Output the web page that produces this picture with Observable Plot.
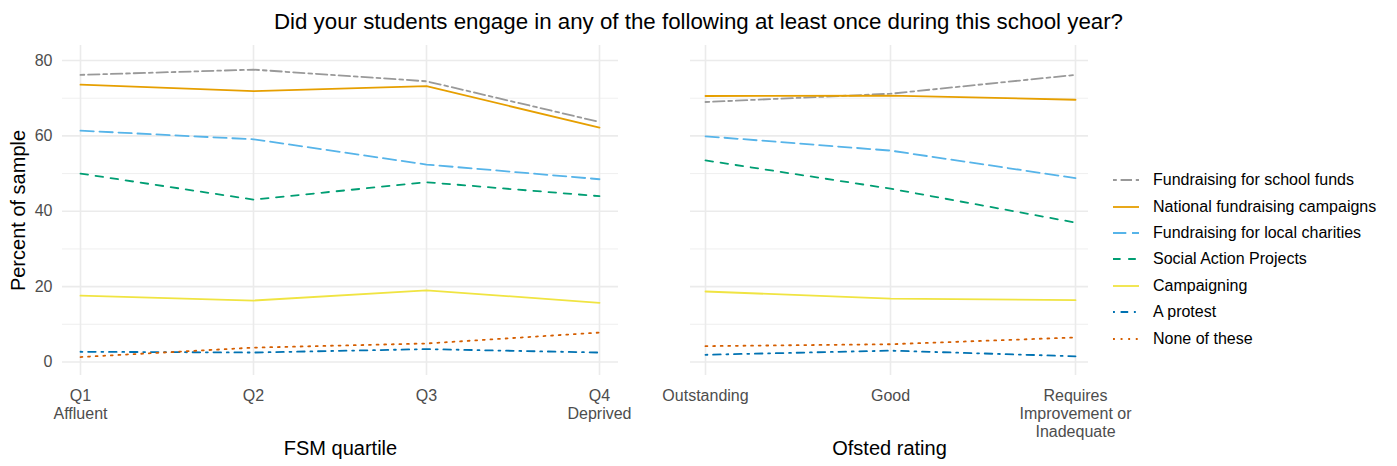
<!DOCTYPE html>
<html>
<head>
<meta charset="utf-8">
<script src="https://cdn.jsdelivr.net/npm/d3@7"></script>
<script src="https://cdn.jsdelivr.net/npm/@observablehq/plot@0.6"></script>
<style>
  body { margin: 0; background: #fff; font-family: "Liberation Sans", Arial, sans-serif; }
  #wrap { position: relative; width: 1397px; height: 466px; overflow: hidden; background: #fff; }
  #title { position: absolute; left: 0; top: 8px; width: 1397px; text-align: center; font-size: 22.3px; line-height: 28px; color: #000; }
  #left { position: absolute; left: 0; top: 0; }
  #right { position: absolute; left: 640px; top: 0; }
  #legend { position: absolute; left: 1113px; top: 167px; }
  .row { display: flex; align-items: center; height: 26.4px; font-size: 16px; color: #000; white-space: nowrap; }
  .row svg { margin-right: 14px; }
</style>
</head>
<body>
<div id="wrap">
  <div id="title">Did your students engage in any of the following at least once during this school year?</div>
  <div id="left"></div>
  <div id="right"></div>
  <div id="legend"></div>
</div>
<script>
// ---- Data ----
const seriesNames = [
  "Fundraising for school funds",
  "National fundraising campaigns",
  "Fundraising for local charities",
  "Social Action Projects",
  "Campaigning",
  "A protest",
  "None of these"
];
const seriesColors = ["#999999", "#E69F00", "#56B4E9", "#009E73", "#F0E442", "#0072B2", "#D55E00"];
const seriesDash = ["3.8,3.8,11.4,3.8", null, "13.3,5.7", "7.6,7.6", null, "1.9,5.7,7.6,5.7", "1.9,5.7"];

const fsmCategories = ["Q1", "Q2", "Q3", "Q4"];
const fsmTickLabels = ["Q1\nAffluent", "Q2", "Q3", "Q4\nDeprived"];
const ofstedCategories = ["Outstanding", "Good", "Requires Improvement or Inadequate"];
const ofstedTickLabels = ["Outstanding", "Good", "Requires\nImprovement or\nInadequate"];
const yTicks = [0, 20, 40, 60, 80];
const yMinorTicks = [10, 30, 50, 70];

// FSM quartile panel values (percent)
const fsmSchoolFunds   = [76.2, 77.6, 74.5, 63.7];
const fsmNational      = [73.6, 71.9, 73.2, 62.2];
const fsmLocal         = [61.4, 59.1, 52.4, 48.5];
const fsmSocialAction  = [50.0, 43.1, 47.7, 44.0];
const fsmCampaigning   = [17.6, 16.3, 19.0, 15.7];
const fsmProtest       = [2.7, 2.5, 3.4, 2.5];
const fsmNone          = [1.3, 3.8, 4.9, 7.8];

// Ofsted rating panel values (percent)
const ofsSchoolFunds   = [69.0, 71.2, 76.2];
const ofsNational      = [70.6, 70.7, 69.6];
const ofsLocal         = [59.9, 56.1, 48.8];
const ofsSocialAction  = [53.5, 46.0, 37.0];
const ofsCampaigning   = [18.7, 16.8, 16.4];
const ofsProtest       = [1.9, 3.0, 1.5];
const ofsNone          = [4.2, 4.7, 6.5];

const fsmValues = [fsmSchoolFunds, fsmNational, fsmLocal, fsmSocialAction, fsmCampaigning, fsmProtest, fsmNone];
const ofsValues = [ofsSchoolFunds, ofsNational, ofsLocal, ofsSocialAction, ofsCampaigning, ofsProtest, ofsNone];

const FONT = '"Liberation Sans", Arial, sans-serif';
const GRID = "#ebebeb";

function panel({categories, tickLabels, values, width, marginLeft, marginRight, xRange, showY, xTitle}) {
  const lineMarks = values.map((vals, i) =>
    Plot.line(categories.map((c, j) => ({x: c, y: vals[j]})), {
      x: "x", y: "y",
      stroke: seriesColors[i],
      strokeWidth: 1.8,
      strokeDasharray: seriesDash[i] || undefined
    })
  );
  const marks = [
    Plot.ruleY(yMinorTicks, {stroke: GRID, strokeWidth: 0.8}),
    Plot.ruleY(yTicks, {stroke: GRID, strokeWidth: 1.6}),
    Plot.ruleX(categories, {stroke: GRID, strokeWidth: 1.6}),
    Plot.axisX({
      tickSize: 0, tickPadding: 13, fontSize: 16, lineHeight: 1.125, fill: "#4d4d4d",
      tickFormat: d => tickLabels[categories.indexOf(d)], label: null
    }),
    ...lineMarks,
    Plot.text([xTitle], {text: d => d, frameAnchor: "bottom", dy: 73, lineAnchor: "middle", textAnchor: "middle", fontSize: 20, fill: "#000"})
  ];
  if (showY) {
    marks.push(Plot.axisY({ticks: yTicks, tickSize: 0, tickPadding: 10, fontSize: 16, fill: "#4d4d4d", label: null}));
    marks.push(Plot.text(["Percent of sample"], {text: d => d, frameAnchor: "left", dx: -44, rotate: -90, lineAnchor: "middle", textAnchor: "middle", fontSize: 20, fill: "#000"}));
  }
  return Plot.plot({
    width, height: 466,
    marginTop: 45, marginBottom: 91, marginLeft, marginRight,
    x: {type: "point", domain: categories, range: xRange, padding: 0},
    y: {domain: [-3.6, 84], axis: showY ? undefined : null},
    style: {fontFamily: FONT, background: "transparent", overflow: "visible"},
    marks
  });
}

document.getElementById("left").appendChild(panel({
  categories: fsmCategories, tickLabels: fsmTickLabels, values: fsmValues,
  width: 640, marginLeft: 62, marginRight: 22, xRange: [79, 600], showY: true, xTitle: "FSM quartile"
}));
document.getElementById("right").appendChild(panel({
  categories: ofstedCategories, tickLabels: ofstedTickLabels, values: ofsValues,
  width: 480, marginLeft: 50, marginRight: 32, xRange: [64, 435], showY: false, xTitle: "Ofsted rating"
}));

// Legend
const legend = document.getElementById("legend");
seriesNames.forEach((name, i) => {
  const row = document.createElement("div");
  row.className = "row";
  const ns = "http://www.w3.org/2000/svg";
  const svg = document.createElementNS(ns, "svg");
  svg.setAttribute("width", 26); svg.setAttribute("height", 10);
  const ln = document.createElementNS(ns, "line");
  ln.setAttribute("x1", 0); ln.setAttribute("x2", 26); ln.setAttribute("y1", 5); ln.setAttribute("y2", 5);
  ln.setAttribute("stroke", seriesColors[i]); ln.setAttribute("stroke-width", 1.8);
  if (seriesDash[i]) ln.setAttribute("stroke-dasharray", seriesDash[i]);
  svg.appendChild(ln);
  row.appendChild(svg);
  const span = document.createElement("span");
  span.textContent = name;
  row.appendChild(span);
  legend.appendChild(row);
});
</script>
</body>
</html>
